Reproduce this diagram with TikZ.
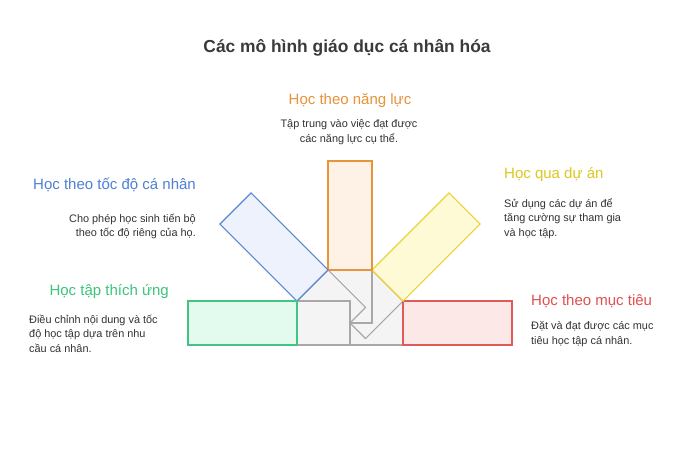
\documentclass[tikz,border=0pt]{standalone}
\usepackage{fontspec}
\setmainfont{Liberation Sans}
\definecolor{titlec}{HTML}{3A3A3A}
\definecolor{textc}{HTML}{333333}
\definecolor{redline}{HTML}{E05A5A}
\definecolor{redfill}{HTML}{FDE8E8}
\definecolor{yellowline}{HTML}{E8D43A}
\definecolor{yellowfill}{HTML}{FEFAD6}
\definecolor{orangeline}{HTML}{E8943A}
\definecolor{orangefill}{HTML}{FEF1E5}
\definecolor{blueline}{HTML}{5B86D6}
\definecolor{bluefill}{HTML}{EDF2FD}
\definecolor{greenline}{HTML}{44C383}
\definecolor{greenfill}{HTML}{E3FBEE}
\definecolor{grayline}{HTML}{A8A8A8}
\definecolor{grayfill}{HTML}{F4F4F4}
\definecolor{redtext}{HTML}{E05050}
\definecolor{yellowtext}{HTML}{DCC81E}
\definecolor{orangetext}{HTML}{E8923A}
\definecolor{bluetext}{HTML}{4F7FD6}
\definecolor{greentext}{HTML}{3DC47E}
\tikzset{
  graybar/.style={draw=grayline, fill=grayfill, line width=1.2pt, line join=miter},
  colbar/.style={line width=1.2pt, line join=miter},
  heading/.style={inner sep=0pt, font=\fontsize{15}{18}\selectfont},
  desc/.style={inner sep=0pt, text=textc, font=\fontsize{10.9}{14.7}\selectfont},
}
\begin{document}
\begin{tikzpicture}[x=1pt,y=-1pt]
\useasboundingbox[fill=white] (0,0) rectangle (700,467);
% gray inner parts, drawn in order red, yellow, orange, blue, green
\foreach \ang in {0,45,90,135,180}{
  \begin{scope}[shift={(350,323)},rotate=\ang]
    \draw[graybar] (0,-22) rectangle (53,22);
  \end{scope}
}
% coloured outer parts
\foreach \ang/\c in {0/red,45/yellow,90/orange,135/blue,180/green}{
  \begin{scope}[shift={(350,323)},rotate=\ang]
    \draw[colbar, draw=\c line, fill=\c fill] (53,-22) rectangle (162,22);
  \end{scope}
}
% title
\node[inner sep=0pt, text=titlec, font=\fontsize{17.4}{20}\selectfont\bfseries] (title) at (347,48) {Các mô hình giáo dục cá nhân hóa};
% orange
\node[heading, text=orangetext] (hOrange) at (350,101) {Học theo năng lực};
\node[desc, align=center, anchor=north] (dOrange) at (349,119.5) {Tập trung vào việc đạt được\\các năng lực cụ thể.};
% blue
\node[heading, text=bluetext, anchor=east] (hBlue) at (196,184.5) {Học theo tốc độ cá nhân};
\node[desc, align=right, anchor=north east] (dBlue) at (196,213.5) {Cho phép học sinh tiến bộ\\theo tốc độ riêng của họ.};
% yellow
\node[heading, text=yellowtext, anchor=west] (hYellow) at (504,175) {Học qua dự án};
\node[desc, align=left, anchor=north west] (dYellow) at (504,198) {Sử dụng các dự án để\\tăng cường sự tham gia\\và học tập.};
% green
\node[heading, text=greentext, anchor=east] (hGreen) at (169,292) {Học tập thích ứng};
\node[desc, align=left, anchor=north west] (dGreen) at (29,314.5) {Điều chỉnh nội dung và tốc\\độ học tập dựa trên nhu\\cầu cá nhân.};
% red
\node[heading, text=redtext, anchor=west] (hRed) at (531,301) {Học theo mục tiêu};
\node[desc, align=left, anchor=north west] (dRed) at (531,321.5) {Đặt và đạt được các mục\\tiêu học tập cá nhân.};
\end{tikzpicture}
\end{document}
